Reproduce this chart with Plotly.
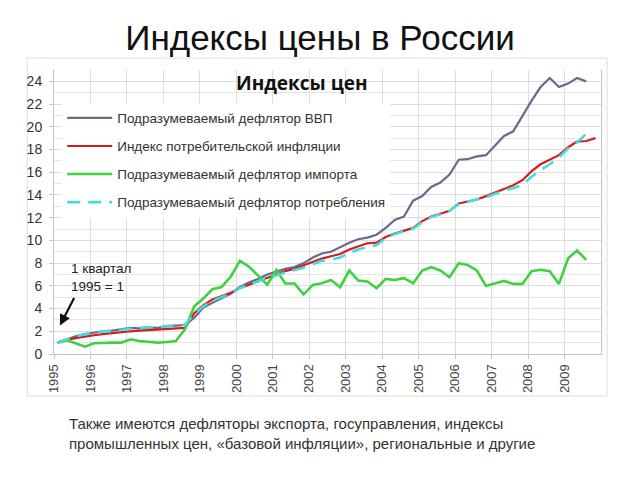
import plotly.graph_objects as go

# quarterly data, 1 quarter 1995 = 1
years = list(range(1995, 2010))
quarters = [f"{y}-{m:02d}-06" for y in years for m in (2, 5, 8, 11)]
year_ticks = [f"{y}-01-01" for y in years]

gdp_deflator = [1.0, 1.3, 1.55, 1.75, 1.9, 2.0, 2.05, 2.15, 2.3, 2.25, 2.35, 2.3,
                2.45, 2.5, 2.55, 3.2, 4.1, 4.5, 4.9, 5.3, 5.9, 6.3, 6.6, 7.0,
                7.25, 7.5, 7.65, 8.0, 8.5, 8.85, 9.0, 9.4, 9.8, 10.1, 10.25, 10.5,
                11.1, 11.8, 12.1, 13.5, 13.9, 14.7, 15.1, 15.8, 17.1, 17.15, 17.4, 17.5,
                18.4, 19.2, 19.6, 21.0, 22.3, 23.5, 24.3, 23.5, 23.8, 24.3, 24.0]
cpi = [1.0, 1.25, 1.4, 1.55, 1.65, 1.75, 1.85, 1.95, 2.0, 2.05, 2.1, 2.1,
       2.15, 2.25, 2.3, 3.6, 4.3, 4.8, 5.1, 5.4, 5.8, 6.1, 6.4, 6.7,
       7.0, 7.3, 7.5, 7.8, 8.1, 8.4, 8.6, 8.8, 9.2, 9.5, 9.75, 9.8,
       10.3, 10.6, 10.85, 11.1, 11.7, 12.1, 12.35, 12.6, 13.25, 13.45, 13.6, 13.9,
       14.2, 14.5, 14.85, 15.3, 16.1, 16.7, 17.1, 17.5, 18.2, 18.7, 18.75, 19.0]
import_deflator = [1.0, 1.2, 0.95, 0.65, 0.95, 1.0, 1.0, 1.0, 1.3, 1.15, 1.1, 1.0,
                   1.05, 1.15, 2.2, 4.2, 4.9, 5.7, 5.9, 6.8, 8.2, 7.7, 6.9, 6.1,
                   7.4, 6.2, 6.2, 5.25, 6.08, 6.23, 6.52, 5.88, 7.35, 6.47, 6.38, 5.79,
                   6.61, 6.52, 6.67, 6.23, 7.35, 7.64, 7.35, 6.76, 7.99, 7.84, 7.35, 5.99,
                   6.23, 6.43, 6.17, 6.17, 7.29, 7.41, 7.29, 6.17, 8.43, 9.1, 8.28]
consumption_deflator = [1.0, 1.3, 1.55, 1.75, 1.9, 2.0, 2.05, 2.15, 2.25, 2.3, 2.35, 2.35,
                        2.45, 2.5, 2.6, 3.5, 4.2, 4.7, 5.0, 5.3, 5.8, 6.1, 6.4, 6.7,
                        6.9, 7.2, 7.4, 7.6, 7.9, 8.2, 8.3, 8.5, 8.9, 9.2, 9.4, 9.6,
                        10.2, 10.55, 10.8, 11.05, 11.6, 12.05, 12.3, 12.6, 13.2, 13.4, 13.6, 13.8,
                        14.1, 14.4, 14.6, 14.9, 15.6, 16.2, 16.7, 17.3, 18.1, 18.6, 19.4]

names = ["Подразумеваемый дефлятор ВВП",
         "Индекс потребительской инфляции",
         "Подразумеваемый дефлятор импорта",
         "Подразумеваемый дефлятор потребления"]

fig = go.Figure()
fig.add_trace(go.Scatter(x=quarters[:len(gdp_deflator)], y=gdp_deflator, mode="lines",
                         name=names[0], legendgroup="a",
                         line=dict(color="#6A6A8C", width=2.2)))
fig.add_trace(go.Scatter(x=quarters[:len(cpi)], y=cpi, mode="lines",
                         name=names[1], legendgroup="b",
                         line=dict(color="#D21E1E", width=2.2)))
fig.add_trace(go.Scatter(x=quarters[:len(import_deflator)], y=import_deflator, mode="lines",
                         name=names[2], legendgroup="c",
                         line=dict(color="#3ED33E", width=2.6)))
fig.add_trace(go.Scatter(x=quarters[:len(consumption_deflator)], y=consumption_deflator, mode="lines",
                         name=names[3], legendgroup="d",
                         line=dict(color="#45DCDC", width=2.6, dash="13px,8px")))

fig.add_annotation(text="<b>Индексы цен</b>", xref="paper", yref="paper",
                   x=0.453, y=0.954, xanchor="center", yanchor="middle", showarrow=False,
                   font=dict(family="Open Sans", size=19, color="#111"))
fig.add_annotation(text="1 квартал<br>1995 = 1", xref="paper", yref="paper",
                   x=0.028, y=0.271, xanchor="left", yanchor="middle", align="left",
                   showarrow=False, font=dict(size=13.5, color="#222"))
fig.add_annotation(x="1995-03-01", y=2.5, text="", showarrow=True,
                   arrowhead=2, arrowsize=1, arrowwidth=2.2, arrowcolor="#111",
                   ax=15, ay=-29)
fig.add_annotation(text="Также имеются дефляторы экспорта, госуправления, индексы<br>"
                        "промышленных цен, «базовой инфляции», региональные и другие",
                   xref="paper", yref="paper", x=0.0235, y=-0.2095,
                   xanchor="left", yanchor="top", align="left", showarrow=False,
                   font=dict(size=15, color="#333"))

# light frame around the chart
fig.add_shape(type="rect", xref="paper", yref="paper",
              x0=-0.049, x1=1.011, y0=-0.148, y1=1.042,
              line=dict(color="#dddddd", width=1), layer="below")

fig.update_layout(
    width=624, height=464,
    margin=dict(l=46, r=31, t=62, b=118),
    paper_bgcolor="white", plot_bgcolor="white",
    font=dict(family="Liberation Sans, Arial", color="#333"),
    title=dict(text="Индексы цены в России", x=0.5, xanchor="center",
               y=0.935, yanchor="middle", font=dict(size=35, color="#111")),
    showlegend=True,
    legend=dict(x=0.015, y=0.885, xanchor="left", yanchor="top",
                bgcolor="white", font=dict(size=13.5, color="#333"),
                tracegroupgap=7.5, itemwidth=45, traceorder="grouped"),
    xaxis=dict(type="date", range=["1995-01-01", "2010-01-01"],
               tickvals=year_ticks, tickformat="%Y", tickangle=-90,
               showgrid=True, gridcolor="#dcdcdc", gridwidth=1,
               showline=True, linecolor="#c4c4c4", ticks="outside",
               ticklen=4, tickcolor="#c4c4c4",
               tickfont=dict(size=13, color="#444"), zeroline=False),
    yaxis=dict(range=[0, 25], tick0=0, dtick=2,
               showgrid=True, gridcolor="#dcdcdc", gridwidth=1,
               minor=dict(dtick=1, showgrid=True, gridcolor="#e6e6e6"),
               showline=True, mirror=True, linecolor="#c4c4c4", ticks="outside",
               ticklen=4, tickcolor="#c4c4c4", ticklabelstandoff=4,
               tickfont=dict(size=14, color="#333"), zeroline=False),
)

fig.write_html("out.html")
